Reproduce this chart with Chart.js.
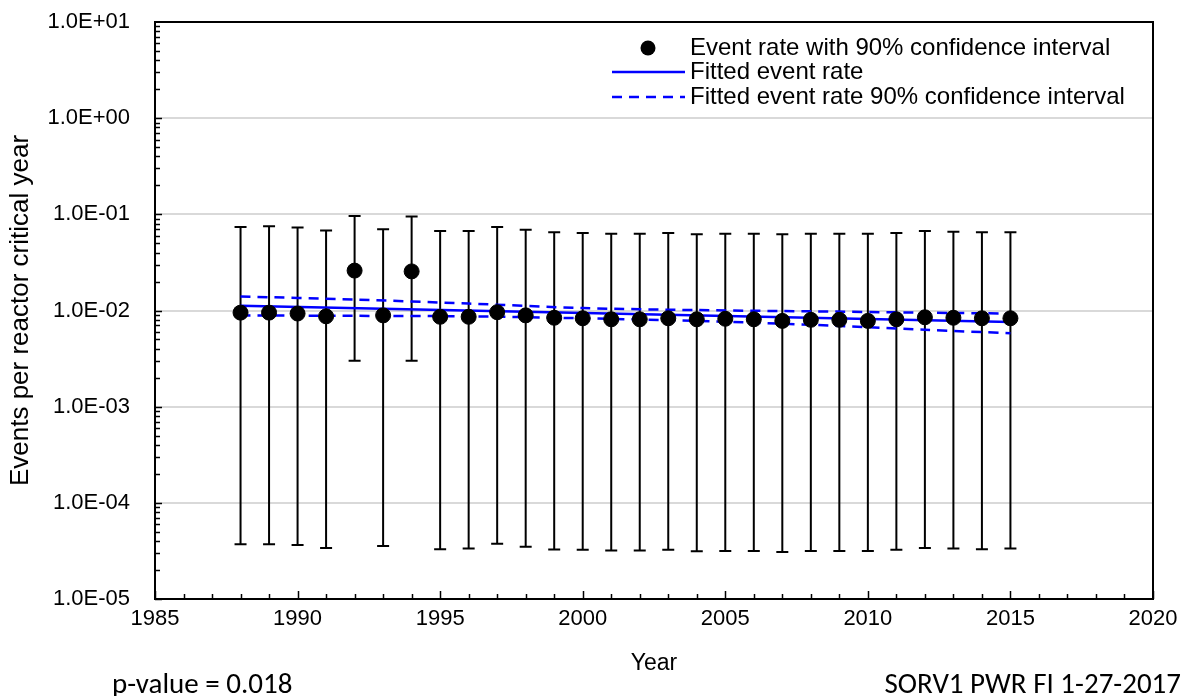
<!DOCTYPE html>
<html><head><meta charset="utf-8">
<script src="https://cdn.jsdelivr.net/npm/chart.js@4.4.0/dist/chart.umd.min.js"></script>
<style>html,body{margin:0;padding:0;background:#fff;overflow:hidden}#wrap{width:1188px;height:696px}</style>
</head><body><div id="wrap"><canvas id="c" width="1188" height="696"></canvas></div>
<script>
const years = [1988,1989,1990,1991,1992,1993,1994,1995,1996,1997,1998,1999,2000,2001,2002,2003,2004,2005,2006,2007,2008,2009,2010,2011,2012,2013,2014,2015];
const eventRate = [0.0095,0.0095,0.0093,0.0087,0.026,0.0089,0.0255,0.0086,0.0086,0.0096,0.0089,0.0084,0.0083,0.0081,0.0081,0.0083,0.0081,0.0082,0.0081,0.0078,0.0080,0.0080,0.0078,0.0081,0.0085,0.0084,0.0083,0.0083];
const upper90 = [0.074,0.075,0.073,0.068,0.096,0.070,0.095,0.067,0.067,0.074,0.069,0.065,0.064,0.063,0.063,0.064,0.062,0.063,0.063,0.062,0.063,0.063,0.063,0.064,0.067,0.066,0.065,0.065];
const lower90 = [3.7e-5,3.7e-5,3.65e-5,3.4e-5,3.0e-3,3.55e-5,3.0e-3,3.3e-5,3.35e-5,3.75e-5,3.5e-5,3.28e-5,3.25e-5,3.2e-5,3.2e-5,3.25e-5,3.13e-5,3.15e-5,3.15e-5,3.08e-5,3.15e-5,3.15e-5,3.15e-5,3.25e-5,3.4e-5,3.35e-5,3.3e-5,3.35e-5];
const fitYears = [1988,2015];
const fitRate = [0.0112,0.0076];
const bandYears = [1988,1992,1996,2000,2004,2008,2012,2015];
const bandUpper = [0.0140,0.0130,0.0118,0.0106,0.0101,0.0098,0.0095,0.0093];
const bandLower = [0.0089,0.0088,0.0087,0.0083,0.0078,0.0071,0.0063,0.0058];
const yTicks = [1e-5,1e-4,1e-3,1e-2,1e-1,1e0,1e1];
const legendLabels = ['Event rate with 90% confidence interval','Fitted event rate','Fitted event rate 90% confidence interval'];
const pValueText = 'p-value = 0.018';
const stampText = 'SORV1 PWR FI 1-27-2017';

const AR = '"Liberation Sans", Arial, sans-serif';
const CAL = 'Carlito, Lato, "Open Sans", sans-serif';
const BLUE = '#0000ff';

function fmtExp(v){
  const e = Math.round(Math.log10(v));
  const s = e < 0 ? '-' : '+';
  const a = Math.abs(e);
  return '1.0E' + s + (a < 10 ? '0' + a : a);
}

const extras = {
  id: 'extras',
  beforeDatasetsDraw(chart){
    const {ctx, chartArea: ca, scales: {x, y}} = chart;
    ctx.save();
    ctx.strokeStyle = '#000'; ctx.lineWidth = 1.5;
    for (let d = -5; d < 1; d++) {
      for (let m = 1; m <= 9; m++) {
        const v = m * Math.pow(10, d);
        const py = Math.round(y.getPixelForValue(v)) + 0.5;
        const len = m === 1 ? 7 : 5;
        ctx.beginPath(); ctx.moveTo(ca.left, py); ctx.lineTo(ca.left + len, py); ctx.stroke();
      }
    }
    for (let yr = 1985; yr <= 2020; yr++) {
      const px = Math.round(x.getPixelForValue(yr)) + 0.5;
      const len = yr % 5 === 0 ? 8 : 5;
      ctx.beginPath(); ctx.moveTo(px, ca.bottom); ctx.lineTo(px, ca.bottom - len); ctx.stroke();
    }
    ctx.lineWidth = 2; ctx.strokeStyle = '#000';
    years.forEach((yr, i) => {
      const px = x.getPixelForValue(yr);
      const ph = y.getPixelForValue(upper90[i]);
      const pl = y.getPixelForValue(lower90[i]);
      ctx.beginPath();
      ctx.moveTo(px, ph); ctx.lineTo(px, pl);
      ctx.moveTo(px - 6, ph); ctx.lineTo(px + 6, ph);
      ctx.moveTo(px - 6, pl); ctx.lineTo(px + 6, pl);
      ctx.stroke();
    });
    ctx.restore();
  },
  afterDraw(chart){
    const {ctx, chartArea: ca} = chart;
    ctx.save();
    ctx.strokeStyle = '#000'; ctx.lineWidth = 2;
    ctx.strokeRect(ca.left, ca.top, ca.right - ca.left, ca.bottom - ca.top);
    ctx.font = '24px ' + AR;
    ctx.fillStyle = '#000';
    ctx.textBaseline = 'middle'; ctx.textAlign = 'left';
    const lx0 = 612, lx1 = 685, tx = 690, rows = [48, 72, 97];
    ctx.beginPath(); ctx.arc(648, rows[0], 7.5, 0, Math.PI * 2); ctx.fill();
    ctx.strokeStyle = BLUE; ctx.lineWidth = 2.5;
    ctx.beginPath(); ctx.moveTo(lx0, rows[1]); ctx.lineTo(lx1, rows[1]); ctx.stroke();
    ctx.setLineDash([10, 7]);
    ctx.beginPath(); ctx.moveTo(lx0, rows[2]); ctx.lineTo(lx1, rows[2]); ctx.stroke();
    ctx.setLineDash([]);
    legendLabels.forEach((t, i) => ctx.fillText(t, tx, rows[i]));
    ctx.font = '29px ' + CAL;
    ctx.textBaseline = 'alphabetic';
    ctx.textAlign = 'left';
    ctx.fillText(pValueText, 112, 693);
    ctx.textAlign = 'right';
    ctx.fillText(stampText, 1181, 693);
    ctx.restore();
  }
};

new Chart(document.getElementById('c'), {
  data: {
    datasets: [
      { type: 'scatter', label: legendLabels[0], data: years.map((yr, i) => ({x: yr, y: eventRate[i]})),
        pointRadius: 7.5, pointHoverRadius: 7.5, backgroundColor: '#000', borderColor: '#000', order: 0 },
      { type: 'line', label: legendLabels[1], data: fitYears.map((yr, i) => ({x: yr, y: fitRate[i]})),
        borderColor: BLUE, borderWidth: 2.5, pointRadius: 0, fill: false, tension: 0, order: 1 },
      { type: 'line', label: legendLabels[2], data: bandYears.map((yr, i) => ({x: yr, y: bandUpper[i]})),
        borderColor: BLUE, borderWidth: 2.5, borderDash: [10, 7], pointRadius: 0, fill: false, tension: 0.3, order: 1 },
      { type: 'line', label: legendLabels[2] + ' (lower)', data: bandYears.map((yr, i) => ({x: yr, y: bandLower[i]})),
        borderColor: BLUE, borderWidth: 2.5, borderDash: [10, 7], pointRadius: 0, fill: false, tension: 0.3, order: 1 }
    ]
  },
  options: {
    responsive: false, animation: false, devicePixelRatio: 1,
    layout: { autoPadding: false, padding: { top: 22, right: 35, left: 0, bottom: 0 } },
    plugins: { legend: { display: false }, tooltip: { enabled: false } },
    scales: {
      x: {
        type: 'linear', min: 1985, max: 2020,
        afterFit(s){ s.height = 97; s.paddingLeft = 0; s.paddingRight = 0; },
        ticks: { stepSize: 5, color: '#000', font: { family: AR, size: 22 }, padding: 7, maxRotation: 0,
                 callback: v => String(v) },
        grid: { display: false, drawTicks: false },
        border: { display: true, color: '#000', width: 2 },
        title: { display: true, text: 'Year', color: '#000', font: { family: AR, size: 23 }, padding: { top: 0, bottom: 19 } }
      },
      y: {
        type: 'logarithmic', min: 1e-5, max: 10,
        afterFit(s){ s.width = 155; s.paddingTop = 0; s.paddingBottom = 0; },
        afterBuildTicks(s){ s.ticks = yTicks.map(v => ({value: v})); },
        ticks: { color: '#000', font: { family: AR, size: 22 }, padding: 25, callback: v => fmtExp(v), autoSkip: false },
        grid: { color: '#d9d9d9', lineWidth: 2, drawTicks: false },
        border: { display: true, color: '#000', width: 2 },
        title: { display: true, text: 'Events per reactor critical year', color: '#000', font: { family: AR, size: 26 }, padding: { top: 5, bottom: 0 } }
      }
    }
  },
  plugins: [extras]
});
</script>
</body></html>
